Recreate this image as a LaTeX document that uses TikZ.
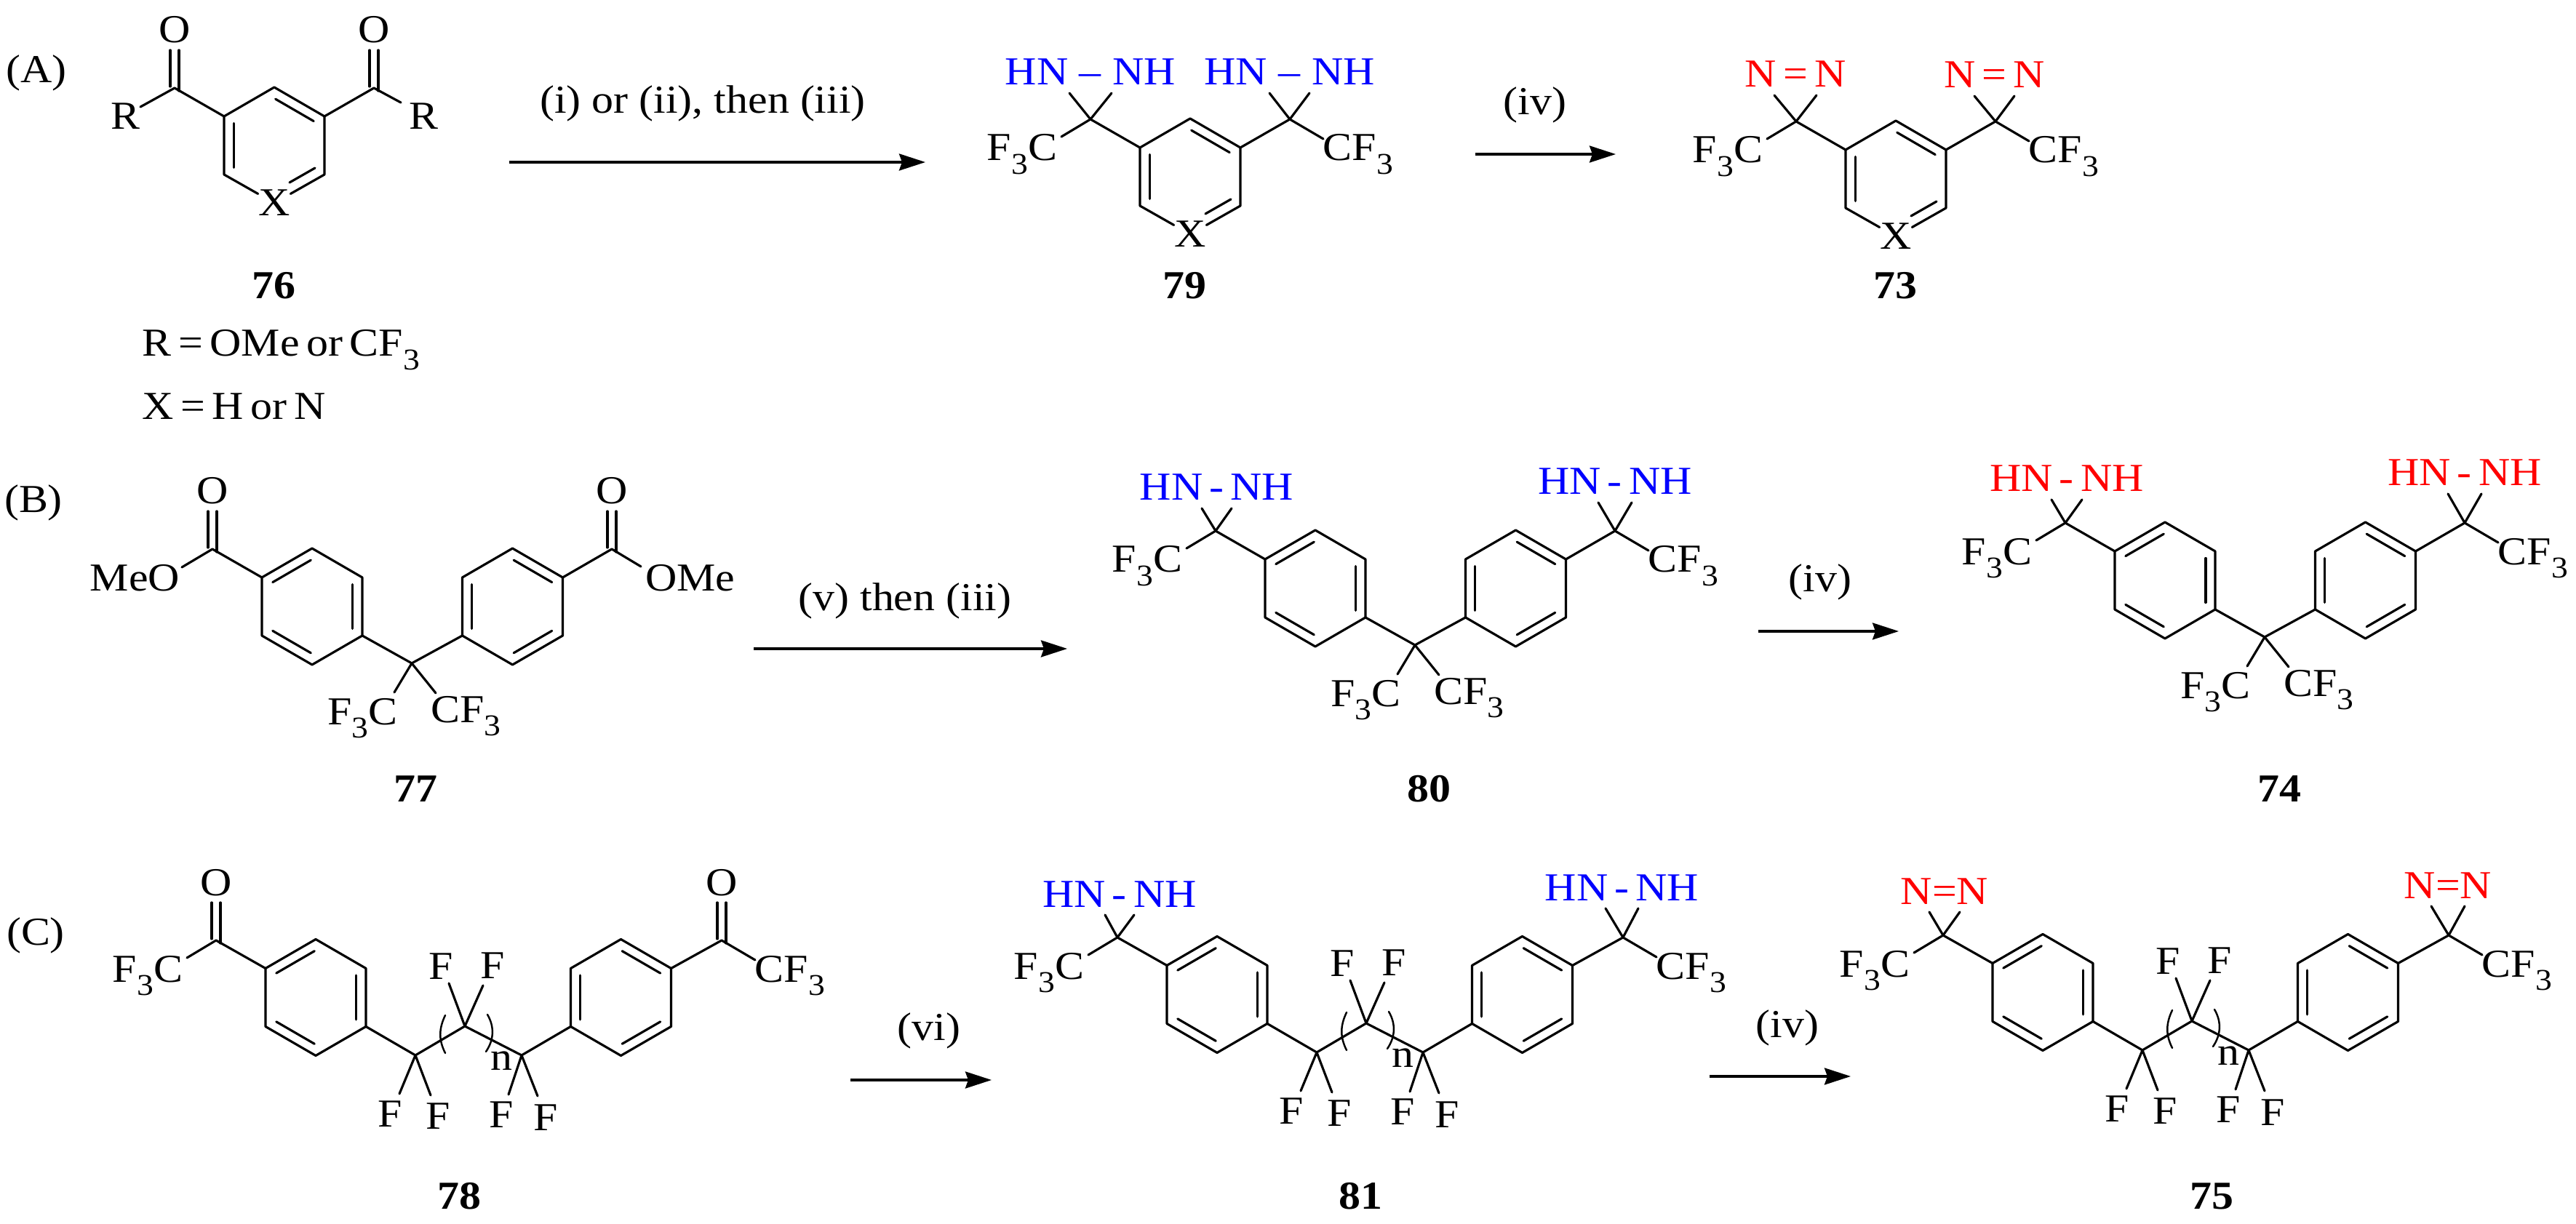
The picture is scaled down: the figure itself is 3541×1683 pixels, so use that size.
\documentclass[tikz,border=0pt]{standalone}
\usepackage{fontspec}
\setmainfont[FakeStretch=1.1]{Liberation Serif}
\usetikzlibrary{arrows.meta, calc}
\definecolor{hydblue}{RGB}{0, 0, 255}
\definecolor{azired}{RGB}{255, 0, 0}
\tikzset{
  atom/.style={inner sep=0pt, anchor=base, yshift=-.18cm, font=\fontsize{15.5}{18}\selectfont},
  cmpd/.style={atom, font=\fontsize{15.5}{18}\selectfont\bfseries},
  bond/.style={line width=.9pt, line cap=round, line join=round},
  rxnarrow/.style={line width=.95pt, -{Stealth[length=.36cm, width=.23cm, inset=.04cm]}},
}
\newcommand{\subthree}{\raisebox{-1.8mm}{\fontsize{11.8}{12}\selectfont 3}}
\newcommand{\tightsp}{\spaceskip=.175em\relax}
\newcommand{\hnwide}{HN\kern.287em--\kern.287em NH}
\newcommand{\hnshort}{HN\,-\,NH}
% inner line of a double bond, pulled towards the ring centre
\newcommand{\innerbond}[3]{\draw[bond] ($(#1)!.03!(#2)!.19!(#3)$) -- ($(#2)!.03!(#1)!.19!(#3)$);}
% ring outline: name, centre
\newcommand{\benzring}[2]{
  \coordinate (#1c) at (#2);
  \coordinate (#1t) at ($(#1c)+(0,-80)$);
  \coordinate (#1ul) at ($(#1c)+(-69,-40)$);
  \coordinate (#1ur) at ($(#1c)+(69,-40)$);
  \coordinate (#1ll) at ($(#1c)+(-69,40)$);
  \coordinate (#1lr) at ($(#1c)+(69,40)$);
  \coordinate (#1b) at ($(#1c)+(0,80)$);
  \draw[bond] (#1t) -- (#1ur) -- (#1lr) -- (#1b) -- (#1ll) -- (#1ul) -- cycle;
}
\newcommand{\benzleft}[2]{
  \benzring{#1}{#2}
  \innerbond{#1t}{#1ul}{#1c} \innerbond{#1ur}{#1lr}{#1c} \innerbond{#1ll}{#1b}{#1c}
}
\newcommand{\benzright}[2]{
  \benzring{#1}{#2}
  \innerbond{#1t}{#1ur}{#1c} \innerbond{#1ul}{#1ll}{#1c} \innerbond{#1lr}{#1b}{#1c}
}
% carbon substituents: name, carbon
\newcommand{\cfleft}[2]{
  \node[atom] (#1f) at ($(#2)+(-94,39)$) {F\subthree C};
  \coordinate (#1fe) at ($(#2)+(-40,24)$);
  \draw[bond] (#2) -- (#1fe);
}
\newcommand{\cfright}[2]{
  \node[atom] (#1f) at ($(#2)+(94,39)$) {CF\subthree};
  \coordinate (#1fe) at ($(#2)+(46,27)$);
  \draw[bond] (#2) -- (#1fe);
}
\newcommand{\carbonyl}[2]{
  \node[atom] (#1o) at ($(#2)+(0,-80)$) {O};
  \coordinate (#1oa) at ($(#2)+(-6,-52)$);
  \coordinate (#1ob) at ($(#2)+(6,-52)$);
  \coordinate (#1oc) at ($(#2)+(-6,-2)$);
  \coordinate (#1od) at ($(#2)+(6,4)$);
  \draw[bond] (#1oa) -- (#1oc);
  \draw[bond] (#1ob) -- (#1od);
}
% three-membered ring: name, carbon, colour, text, label dy, bond end dx, bond end dx
\newcommand{\diaz}[7]{
  \coordinate (#1na) at ($(#2)+(#6,#5+29)$);
  \coordinate (#1nb) at ($(#2)+(#7,#5+29)$);
  \node[atom, text=#3] (#1n) at ($(#2)+({(#6+#7)/2},#5)$) {#4};
  \draw[bond] (#1na) -- (#2) -- (#1nb);
}
% row cores: name, shift
\newcommand{\acore}[2]{
  \begin{scope}[shift={(#2)}]
    \coordinate (#1cl) at (240,121);
    \coordinate (#1cr) at (514,121);
    \coordinate (#1c) at (377,200);
    \coordinate (#1t) at (377,120);
    \coordinate (#1ul) at (308,160);
    \coordinate (#1ur) at (446,160);
    \coordinate (#1ll) at (308,240);
    \coordinate (#1lr) at (446,240);
    \node[atom] (#1x) at (377,279) {X};
    \draw[bond] (#1cl) -- (#1ul) -- (#1t) -- (#1ur) -- (#1cr);
    \draw[bond] (#1ur) -- (#1lr) -- (#1x);
    \draw[bond] (#1ul) -- (#1ll) -- (#1x);
    \innerbond{#1ul}{#1ll}{#1c}
    \innerbond{#1t}{#1ur}{#1c}
    \coordinate (#1ia) at (433,231);
    \coordinate (#1ib) at (398,251);
    \draw[bond] (#1ia) -- (#1ib);
  \end{scope}
}
\newcommand{\bcore}[2]{
  \begin{scope}[shift={(#2)}]
    \benzleft{#1a}{429,834}
    \benzright{#1b}{704.5,834}
    \coordinate (#1cl) at (292,755);
    \coordinate (#1cr) at (841,755);
    \coordinate (#1q) at (566,912);
    \coordinate (#1fa) at (542,952);
    \coordinate (#1fb) at (599,953);
    \draw[bond] (#1cl) -- (#1aul);
    \draw[bond] (#1cr) -- (#1bur);
    \draw[bond] (#1alr) -- (#1q) -- (#1bll);
    \draw[bond] (#1fa) -- (#1q) -- (#1fb);
    \node[atom] (#1la) at (498.5,978) {F\subthree C};
    \node[atom] (#1lb) at (640.5,975) {CF\subthree};
  \end{scope}
}
\newcommand{\ccore}[2]{
  \begin{scope}[shift={(#2)}]
    \benzleft{#1a}{434,1371.5}
    \benzright{#1b}{853.5,1371.5}
    \coordinate (#1cl) at (297,1293);
    \coordinate (#1cr) at (992,1293);
    \coordinate (#1sa) at (571,1451);
    \coordinate (#1sb) at (639,1411);
    \coordinate (#1sc) at (717,1451);
    \draw[bond] (#1cl) -- (#1aul);
    \draw[bond] (#1cr) -- (#1bur);
    \draw[bond] (#1alr) -- (#1sa) -- (#1sb) -- (#1sc) -- (#1bll);
    % fluorines
    \coordinate (#1ea) at (549,1504);
    \coordinate (#1eb) at (592,1506);
    \coordinate (#1ec) at (699,1505);
    \coordinate (#1ed) at (739,1507);
    \coordinate (#1ee) at (617,1352);
    \coordinate (#1ef) at (664,1355);
    \draw[bond] (#1ea) -- (#1sa) -- (#1eb);
    \draw[bond] (#1ec) -- (#1sc) -- (#1ed);
    \draw[bond] (#1ee) -- (#1sb) -- (#1ef);
    \node[atom] (#1fa) at (536,1531) {F};
    \node[atom] (#1fb) at (602,1534) {F};
    \node[atom] (#1fc) at (689,1532) {F};
    \node[atom] (#1fd) at (750,1536) {F};
    \node[atom] (#1fe) at (606,1328) {F};
    \node[atom] (#1ff) at (677,1327) {F};
    % repeat unit
    \draw[bond, line width=.7pt] (612,1396) .. controls (603,1415) and (603,1430) .. (612,1448);
    \draw[bond, line width=.7pt] (670,1395) .. controls (680,1412) and (679,1430) .. (668,1446);
    \node[atom] (#1n) at (689,1453) {n};
  \end{scope}
}

\begin{document}
\begin{tikzpicture}[x=.01cm, y=-.01cm]
  \useasboundingbox (0,0) rectangle (3541,1683);

  % Row A
  \node[atom] (tagA) at (50,96) {(A)};
  \acore{ma}{0,0}
  \carbonyl{maleft}{macl}
  \carbonyl{maright}{macr}
  \node[atom] (maRa) at (172,160) {R};
  \node[atom] (maRb) at (582,160) {R};
  \coordinate (maea) at (193,147);
  \coordinate (maeb) at (551,141);
  \draw[bond] (macl) -- (maea);
  \draw[bond] (macr) -- (maeb);
  \node[cmpd] (lab76) at (376,393) {76};
  \node[atom, anchor=base west] (defR) at (195,472) {\tightsp R = OMe or CF\subthree};
  \node[atom, anchor=base west] (defX) at (195,559) {\tightsp X = H or N};

  \coordinate (arAas) at (700,223);
  \coordinate (arAae) at (1272,223);
  \draw[rxnarrow] (arAas) -- (arAae);
  \node[atom] (condAa) at (966,138) {(i) or (ii), then (iii)};

  \acore{mb}{1259,43}
  \diaz{mbl}{mbcl}{hydblue}{\hnwide}{-65}{-29}{29}
  \diaz{mbr}{mbcr}{hydblue}{\hnwide}{-65}{-28}{27}
  \cfleft{mbl}{mbcl}
  \cfright{mbr}{mbcr}
  \node[cmpd] (lab79) at (1628,393) {79};

  \coordinate (arAbs) at (2028,212);
  \coordinate (arAbe) at (2221,212);
  \draw[rxnarrow] (arAbs) -- (arAbe);
  \node[atom] (condAb) at (2110,140) {(iv)};

  \acore{mc}{2229,46}
  \diaz{mcl}{mccl}{azired}{N\,=\,N}{-65}{-30}{28}
  \diaz{mcr}{mccr}{azired}{N\,=\,N}{-64}{-29}{26}
  \cfleft{mcl}{mccl}
  \cfright{mcr}{mccr}
  \node[cmpd] (lab73) at (2605,393) {73};

  % Row B
  \node[atom] (tagB) at (46,687) {(B)};
  \bcore{na}{0,0}
  \carbonyl{naleft}{nacl}
  \carbonyl{naright}{nacr}
  \node[atom] (naMa) at (185.5,794) {MeO};
  \node[atom] (naMb) at (949,794) {OMe};
  \coordinate (naea) at (250,780);
  \coordinate (naeb) at (881,779);
  \draw[bond] (nacl) -- (naea);
  \draw[bond] (nacr) -- (naeb);
  \node[cmpd] (lab77) at (571,1084) {77};

  \coordinate (arBas) at (1036,892);
  \coordinate (arBae) at (1467,892);
  \draw[rxnarrow] (arBas) -- (arBae);
  \node[atom] (condBa) at (1244,821) {(v) then (iii)};

  \bcore{nb}{1379,-25}
  \diaz{nbl}{nbcl}{hydblue}{\hnshort}{-60}{-19}{22}
  \diaz{nbr}{nbcr}{hydblue}{\hnshort}{-68}{-23}{23}
  \cfleft{nbl}{nbcl}
  \cfright{nbr}{nbcr}
  \node[cmpd] (lab80) at (1964,1084) {80};

  \coordinate (arBbs) at (2417,868);
  \coordinate (arBbe) at (2610,868);
  \draw[rxnarrow] (arBbs) -- (arBbe);
  \node[atom] (condBb) at (2502,796) {(iv)};

  \bcore{nc}{2547,-36}
  \diaz{ncl}{nccl}{azired}{\hnshort}{-61}{-19}{23}
  \diaz{ncr}{nccr}{azired}{\hnshort}{-69}{-23}{23}
  \cfleft{ncl}{nccl}
  \cfright{ncr}{nccr}
  \node[cmpd] (lab74) at (3133,1084) {74};

  % Row C
  \node[atom] (tagC) at (49,1281) {(C)};
  \ccore{pa}{0,0}
  \carbonyl{paleft}{pacl}
  \carbonyl{paright}{pacr}
  \cfleft{pal}{pacl}
  \cfright{par}{pacr}
  \node[cmpd] (lab78) at (631,1644) {78};

  \coordinate (arCas) at (1169,1485);
  \coordinate (arCae) at (1363,1485);
  \draw[rxnarrow] (arCas) -- (arCae);
  \node[atom] (condCa) at (1277,1412) {(vi)};

  \ccore{pb}{1239,-4}
  \diaz{pbl}{pbcl}{hydblue}{\hnshort}{-60}{-17}{23}
  \diaz{pbr}{pbcr}{hydblue}{\hnshort}{-69}{-24}{21}
  \cfleft{pbl}{pbcl}
  \cfright{pbr}{pbcr}
  \node[cmpd] (lab81) at (1870,1644) {81};

  \coordinate (arCbs) at (2350,1480);
  \coordinate (arCbe) at (2544,1480);
  \draw[rxnarrow] (arCbs) -- (arCbe);
  \node[atom] (condCb) at (2457,1408) {(iv)};

  \ccore{pc}{2374,-7}
  \diaz{pcl}{pccl}{azired}{N=N}{-61}{-19}{23}
  \diaz{pcr}{pccr}{azired}{N=N}{-69}{-24}{22}
  \cfleft{pcl}{pccl}
  \cfright{pcr}{pccr}
  \node[cmpd] (lab75) at (3040,1644) {75};
\end{tikzpicture}
\end{document}
